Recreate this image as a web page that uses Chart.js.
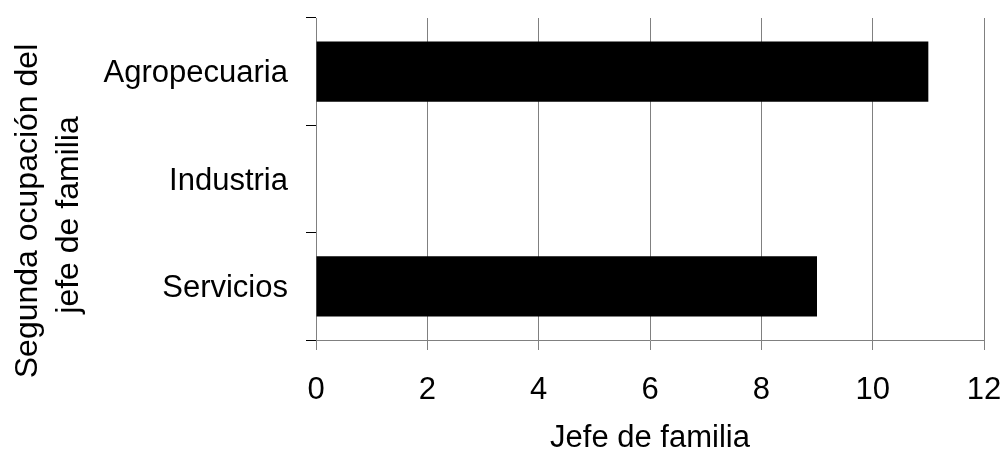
<!DOCTYPE html>
<html>
<head>
<meta charset="utf-8">
<script src="https://cdn.jsdelivr.net/npm/chart.js@4"></script>
<style>
html,body{margin:0;padding:0;background:#fff;}
#wrap{width:1005px;height:451px;}
</style>
</head>
<body>
<div id="wrap"><canvas id="c" width="1005" height="451"></canvas></div>
<script>
const categories = ['Agropecuaria', 'Industria', 'Servicios'];
const values = [11, 0, 9];
const xTicks = [0, 2, 4, 6, 8, 10, 12];
const xTitle = 'Jefe de familia';
const yTitleLines = ['Segunda ocupación del', 'jefe de familia'];

const FONT = 'Liberation Sans, Arial, sans-serif';

const yTitlePlugin = {
  id: 'yTitle',
  afterDraw(chart) {
    const ctx = chart.ctx;
    ctx.save();
    ctx.fillStyle = '#000';
    ctx.font = '32px ' + FONT;
    ctx.textAlign = 'center';
    ctx.textBaseline = 'alphabetic';
    const pos = [[37, 211], [78, 215]];
    yTitleLines.forEach((t, i) => {
      ctx.save();
      ctx.translate(pos[i][0], pos[i][1]);
      ctx.rotate(-Math.PI / 2);
      ctx.fillText(t, 0, 0);
      ctx.restore();
    });
    ctx.restore();
  }
};

function zeroPad(scale) {
  scale.paddingTop = 0; scale.paddingBottom = 0;
  scale.paddingLeft = 0; scale.paddingRight = 0;
}

new Chart(document.getElementById('c'), {
  type: 'bar',
  data: {
    labels: categories,
    datasets: [{
      data: values,
      backgroundColor: '#000',
      borderColor: '#000',
      borderWidth: 0,
      barPercentage: 0.56,
      categoryPercentage: 1
    }]
  },
  options: {
    indexAxis: 'y',
    responsive: false,
    animation: false,
    devicePixelRatio: 1,
    layout: { padding: { left: 0, right: 21, top: 18, bottom: 0 } },
    plugins: { legend: { display: false }, tooltip: { enabled: false } },
    scales: {
      x: {
        min: 0, max: 12,
        afterBuildTicks(scale) { scale.ticks = xTicks.map(v => ({ value: v })); },
        afterFit(scale) { scale.height = 111; zeroPad(scale); },
        ticks: { color: '#000', font: { family: FONT, size: 31 }, padding: 22 },
        grid: { color: '#808080', lineWidth: 1, tickLength: 10, tickColor: '#808080' },
        border: { display: true, color: '#808080', width: 1 },
        title: { display: true, text: xTitle, color: '#000', font: { family: FONT, size: 31, lineHeight: 0.8 }, padding: { top: 0, bottom: 0 } }
      },
      y: {
        afterFit(scale) { scale.width = 316; zeroPad(scale); },
        ticks: { color: '#000', font: { family: FONT, size: 31 }, padding: 18, labelOffset: 2 },
        grid: { offset: true, drawOnChartArea: false, tickLength: 10, tickColor: '#000', color: '#000' },
        border: { display: true, color: '#808080', width: 1 }
      }
    }
  },
  plugins: [yTitlePlugin]
});
</script>
</body>
</html>
